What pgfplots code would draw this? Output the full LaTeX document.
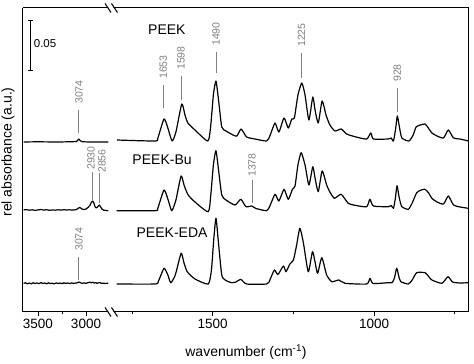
\documentclass[border=0pt]{standalone}
\usepackage{fontspec}
\setmainfont{Liberation Sans}
\usepackage{pgfplots}
\pgfplotsset{compat=1.18}
\definecolor{annot}{RGB}{128,128,128}
\pgfplotsset{
  brk/.style={
    scale only axis, height=304pt, ymin=0, ymax=0.304, ytick=\empty,
    x dir=reverse, axis x line*=box, xtick pos=bottom,
    axis line style={-, line width=1pt},
    tick align=outside, major tick length=4pt, minor tick length=2.5pt,
    every tick/.style={black, line width=0.8pt},
    /pgf/number format/assume math mode=true,
    /pgf/number format/1000 sep={},
    xticklabel style={font=\fontsize{13.5}{16}\selectfont},
    clip=false,
  },
  spec/.style={black, line width=1.2pt, smooth, tension=0.35, no marks, line join=round},
}
\tikzset{
  ann/.style={annot, line width=0.9pt},
  annl/.style={annot, rotate=90, anchor=west, inner sep=1pt, font=\fontsize{10.5}{12}\selectfont},
  nm/.style={font=\fontsize{14}{16}\selectfont},
}
\begin{document}
\begin{tikzpicture}[x=1pt,y=1pt]
\useasboundingbox (0,0) rectangle (474,364);
% ---------- left panel ----------
\begin{axis}[brk, at={(23pt,52pt)}, anchor=south west, width=90pt,
  xmin=2719, xmax=3656, axis y line*=left,
  xtick={3000,3500}, minor xtick={3250}]
\addplot[spec] coordinates {
(3650,0.1700)(3500,0.1702)(3300,0.1700)(3150,0.1703)(3100,0.1705)(3085,0.1718)(3074,0.1730)(3062,0.1715)(3040,0.1703)(2950,0.1700)(2900,0.1701)(2800,0.1700)(2768,0.1700)};
\addplot[spec] coordinates {
(3650,0.1020)(3620,0.1024)(3590,0.1018)(3560,0.1022)(3530,0.1016)(3500,0.1021)(3470,0.1025)(3440,0.1019)(3410,0.1023)(3380,0.1017)(3350,0.1021)(3320,0.1018)(3290,0.1022)(3260,0.1019)(3230,0.1023)(3200,0.1020)(3170,0.1022)(3140,0.1019)(3110,0.1022)(3090,0.1030)(3070,0.1045)(3055,0.1040)(3040,0.1028)(3020,0.1025)(3000,0.1030)(2980,0.1045)(2960,0.1065)(2945,0.1095)(2930,0.1110)(2918,0.1090)(2905,0.1050)(2895,0.1040)(2880,0.1050)(2862,0.1070)(2850,0.1055)(2835,0.1030)(2815,0.1018)(2790,0.1015)(2768,0.1013)};
\addplot[spec] coordinates {
(3650,0.0285)(3630,0.0292)(3610,0.0282)(3590,0.0290)(3570,0.0281)(3550,0.0293)(3530,0.0284)(3510,0.0291)(3490,0.0283)(3470,0.0294)(3450,0.0285)(3430,0.0290)(3410,0.0282)(3390,0.0292)(3370,0.0284)(3350,0.0289)(3330,0.0281)(3310,0.0291)(3290,0.0285)(3270,0.0290)(3250,0.0283)(3230,0.0292)(3210,0.0286)(3190,0.0290)(3170,0.0284)(3150,0.0291)(3130,0.0286)(3110,0.0289)(3090,0.0292)(3074,0.0300)(3060,0.0293)(3040,0.0287)(3020,0.0291)(3000,0.0286)(2980,0.0293)(2960,0.0298)(2945,0.0292)(2930,0.0298)(2915,0.0289)(2900,0.0294)(2885,0.0287)(2870,0.0292)(2855,0.0295)(2840,0.0286)(2820,0.0289)(2800,0.0285)(2780,0.0288)(2768,0.0286)};
% scale bar
\draw[black, line width=1pt] (axis cs:3573,0.241) -- (axis cs:3573,0.291);
\draw[black, line width=1pt] (axis cs:3599,0.291) -- (axis cs:3547,0.291);
\draw[black, line width=1pt] (axis cs:3599,0.241) -- (axis cs:3547,0.241);
\node[anchor=west, inner sep=0pt, font=\fontsize{11.5}{13}\selectfont] at (axis cs:3545,0.268) {0.05};
% annotations
\draw[ann] (axis cs:3074,0.179) -- (axis cs:3074,0.202);
\node[annl] at (axis cs:3074,0.207) {3074};
\draw[ann] (axis cs:2930,0.112) -- (axis cs:2930,0.140);
\node[annl] at (axis cs:2948,0.141) {2930};
\draw[ann] (axis cs:2861,0.109) -- (axis cs:2861,0.139);
\node[annl] at (axis cs:2833,0.138) {2856};
\draw[ann] (axis cs:3074,0.032) -- (axis cs:3074,0.055);
\node[annl] at (axis cs:3074,0.060) {3074};
\end{axis}
% ---------- right panel ----------
\begin{axis}[brk, at={(113pt,52pt)}, anchor=south west, width=356pt,
  xmin=706, xmax=1809, axis y line*=right,
  xtick={1000,1500}, minor xtick={750,1250,1750}]
\addplot[spec] coordinates {
(1797,0.172)(1679,0.171)(1670,0.174)(1651,0.193)(1639,0.184)(1626,0.171)(1614,0.180)(1596,0.208)(1586,0.197)(1577,0.189)(1555,0.182)(1515,0.171)(1506,0.187)(1498,0.217)(1490,0.231)(1482,0.212)(1472,0.185)(1459,0.181)(1437,0.177)(1425,0.176)(1412,0.183)(1395,0.175)(1369,0.173)(1333,0.171)(1323,0.176)(1307,0.189)(1295,0.180)(1279,0.194)(1266,0.184)(1255,0.193)(1247,0.194)(1236,0.217)(1224,0.229)(1214,0.217)(1202,0.192)(1190,0.215)(1183,0.202)(1173,0.189)(1161,0.211)(1149,0.197)(1137,0.187)(1121,0.181)(1102,0.183)(1085,0.178)(1056,0.175)(1023,0.173)(1010,0.179)(1002,0.173)(956,0.173)(947,0.174)(940,0.171)(933,0.184)(928,0.196)(921,0.184)(914,0.174)(892,0.171)(879,0.177)(870,0.185)(857,0.187)(842,0.188)(832,0.184)(821,0.179)(805,0.176)(785,0.174)(770,0.182)(754,0.174)(734,0.173)(708,0.171)};
\addplot[spec] coordinates {
(1798,0.1013)(1679,0.1013)(1670,0.104)(1651,0.122)(1639,0.113)(1627,0.1013)(1614,0.112)(1598,0.136)(1588,0.126)(1576,0.117)(1555,0.110)(1514,0.1003)(1506,0.117)(1498,0.147)(1490,0.1613)(1482,0.142)(1472,0.117)(1459,0.112)(1431,0.107)(1413,0.1127)(1397,0.1053)(1379,0.106)(1366,0.1035)(1333,0.1013)(1323,0.106)(1307,0.1177)(1295,0.111)(1279,0.1227)(1266,0.1127)(1253,0.1227)(1245,0.126)(1236,0.147)(1226,0.1593)(1214,0.147)(1202,0.127)(1190,0.1453)(1183,0.134)(1173,0.1203)(1161,0.141)(1147,0.127)(1137,0.120)(1123,0.1137)(1102,0.1177)(1080,0.1087)(1056,0.1065)(1023,0.1053)(1013,0.1127)(1002,0.106)(956,0.1053)(947,0.1065)(940,0.1037)(934,0.114)(929,0.1263)(922,0.114)(914,0.1053)(894,0.1027)(882,0.109)(868,0.1193)(854,0.122)(842,0.1227)(831,0.119)(821,0.1137)(805,0.110)(785,0.108)(770,0.116)(754,0.107)(734,0.105)(708,0.1037)};
\addplot[spec] coordinates {
(1798,0.028)(1679,0.028)(1668,0.031)(1651,0.0437)(1639,0.037)(1630,0.0293)(1616,0.037)(1598,0.0587)(1589,0.049)(1579,0.0403)(1555,0.033)(1514,0.028)(1504,0.042)(1497,0.072)(1490,0.0937)(1483,0.072)(1472,0.037)(1459,0.0315)(1441,0.0293)(1428,0.030)(1413,0.0327)(1395,0.028)(1333,0.028)(1323,0.032)(1309,0.042)(1298,0.0375)(1281,0.046)(1273,0.0403)(1261,0.048)(1250,0.052)(1240,0.067)(1230,0.0837)(1219,0.069)(1204,0.0403)(1191,0.0603)(1183,0.050)(1175,0.0387)(1162,0.0543)(1147,0.037)(1131,0.0303)(1109,0.032)(1090,0.0287)(1023,0.028)(1013,0.0337)(1003,0.0285)(956,0.0293)(944,0.0295)(937,0.034)(930,0.0437)(923,0.035)(917,0.0303)(894,0.028)(882,0.032)(868,0.0393)(842,0.0393)(831,0.0355)(821,0.032)(790,0.0287)(771,0.0353)(757,0.030)(734,0.029)(708,0.0293)};
% annotations
\draw[ann] (axis cs:1653,0.204) -- (axis cs:1653,0.227);
\node[annl] at (axis cs:1653,0.232) {1653};
\draw[ann] (axis cs:1598,0.212) -- (axis cs:1598,0.236);
\node[annl] at (axis cs:1598,0.241) {1598};
\draw[ann] (axis cs:1490,0.239) -- (axis cs:1490,0.260);
\node[annl] at (axis cs:1490,0.265) {1490};
\draw[ann] (axis cs:1225,0.234) -- (axis cs:1225,0.259);
\node[annl] at (axis cs:1225,0.264) {1225};
\draw[ann] (axis cs:928,0.200) -- (axis cs:928,0.224);
\node[annl] at (axis cs:928,0.229) {928};
\draw[ann] (axis cs:1378,0.109) -- (axis cs:1378,0.132);
\node[annl] at (axis cs:1378,0.134) {1378};
% sample names
\node[nm] at (axis cs:1642,0.282) {PEEK};
\node[nm] at (axis cs:1657,0.152) {PEEK-Bu};
\node[nm] at (axis cs:1626,0.079) {PEEK-EDA};
\end{axis}
% axis break marks
\foreach \yy in {52,356} {
  \fill[white] (106.5,\yy+2) -- (111.5,\yy+2) -- (116.5,\yy-2) -- (111.5,\yy-2) -- cycle;
  \draw[black, line width=1pt] (105,\yy+4.5) -- (111,\yy-4.5);
  \draw[black, line width=1pt] (111.5,\yy+4.5) -- (117.5,\yy-4.5);
}
% axis labels
\node[font=\fontsize{14}{16}\selectfont] at (246,12) {wavenumber (cm\textsuperscript{-1})};
\node[rotate=90, font=\fontsize{14}{16}\selectfont] at (8,212) {rel absorbance (a.u.)};
\end{tikzpicture}
\end{document}
